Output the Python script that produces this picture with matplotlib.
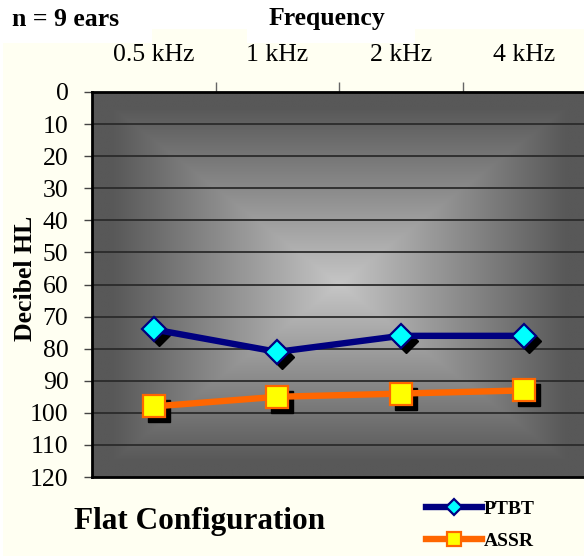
import numpy as np
import matplotlib
matplotlib.use("Agg")
import matplotlib.pyplot as plt
import matplotlib.transforms as mtransforms
from matplotlib.patches import Rectangle

plt.rcParams['font.family'] = ['Liberation Serif', 'DejaVu Serif']

# data
freqs = ['0.5 kHz', '1 kHz', '2 kHz', '4 kHz']
ptbt = [74, 81, 76, 76]
assr = [98, 95, 94, 93]
yticks = list(range(0, 130, 10))

W, H = 584, 556
fig = plt.figure(figsize=(W / 100, H / 100), dpi=100, facecolor='white')

def px(x0, y0, x1, y1):
    # pixel box (top-left origin) -> figure fraction rect
    return (x0 / W, 1 - y1 / H, (x1 - x0) / W, (y1 - y0) / H)

cream = '#fffff2'
r = px(3, 29, 584, 556)
fig.patches.append(Rectangle(r[:2], r[2], r[3], transform=fig.transFigure, fc=cream, ec='none', zorder=-10))
for box in [(0, 0, 152, 43), (247, 0, 415, 43)]:
    r = px(*box)
    fig.patches.append(Rectangle(r[:2], r[2], r[3], transform=fig.transFigure, fc='white', ec='none', zorder=-9))

ax = fig.add_axes(px(92, 92, 586, 477))
ax.set_zorder(1)
x = np.arange(len(freqs))
ax.set_xlim(-0.5, 3.5)
ax.set_ylim(120, 0)

# rectangular "from center" gradient
nx, ny = 400, 320
u = np.abs(np.linspace(-1, 1, nx))
v = np.abs(np.linspace(-1, 1, ny))
t = np.maximum(u[None, :], v[:, None])
t = np.clip(t / 0.92, 0, 1)
g = (0xc6 - (0xc6 - 0x58) * t) / 255.0
img = np.dstack([g, g, g])
ax.imshow(img, extent=(-0.5, 3.5, 120, 0), aspect='auto', zorder=0, interpolation='bilinear')

for yy in yticks[1:-1]:
    ax.axhline(yy, color='#2b2b2b', lw=1.3, zorder=1)

shadow = mtransforms.offset_copy(ax.transData, fig=fig, x=5, y=-5, units='dots')
ax.plot(x, ptbt, 'D', ms=12.5, color='black', transform=shadow, zorder=2)
ax.plot(x, assr, 's', ms=16, color='black', transform=shadow, zorder=2)

ax.plot(x, ptbt, '-', color='#000080', lw=4.6, marker='D', ms=12.5, mfc='#00ffff',
        mec='#000080', mew=1.6, zorder=3, label='PTBT')
ax.plot(x, assr, '-', color='#ff6600', lw=4.6, marker='s', ms=16, mfc='#ffff00',
        mec='#ff6600', mew=1.6, zorder=3, label='ASSR')

for side in ['top', 'left', 'bottom']:
    ax.spines[side].set_linewidth(2)
    ax.spines[side].set_color('black')
ax.spines['right'].set_visible(False)

ax.set_yticks(yticks)
ax.tick_params(axis='y', direction='out', length=6, width=1, color='#444444', pad=11,
               labelsize=18.5)
ax.xaxis.tick_top()
ax.set_xticks(x)
ax.set_xticklabels(freqs)
ax.set_xticks([0.5, 1.5, 2.5], minor=True)
ax.tick_params(axis='x', which='major', length=0, pad=19, labelsize=18.5)
ax.tick_params(axis='x', which='minor', direction='out', length=7, width=1, color='#666666')

fig.text(12 / W, 1 - 19 / H, 'n = 9 ears', fontsize=18.5, fontweight='bold', va='center', ha='left')
fig.text(327 / W, 1 - 19 / H, 'Frequency', fontsize=18.5, fontweight='bold', va='center', ha='center')
fig.text(26 / W, 1 - 278 / H, 'Decibel HL', fontsize=18.5, fontweight='bold', rotation=90,
         va='center', ha='center')
fig.text(200 / W, 1 - 521 / H, 'Flat Configuration', fontsize=22.5, fontweight='bold',
         va='center', ha='center')

leg = fig.legend(loc='center left', bbox_to_anchor=(418 / W, 1 - 525 / H), frameon=False,
                 prop={'weight': 'bold', 'size': 14}, handlelength=2.9, handletextpad=0.1,
                 labelspacing=0.75, markerscale=0.62, borderaxespad=0)

fig.savefig('out.png', dpi=100, facecolor='white')
